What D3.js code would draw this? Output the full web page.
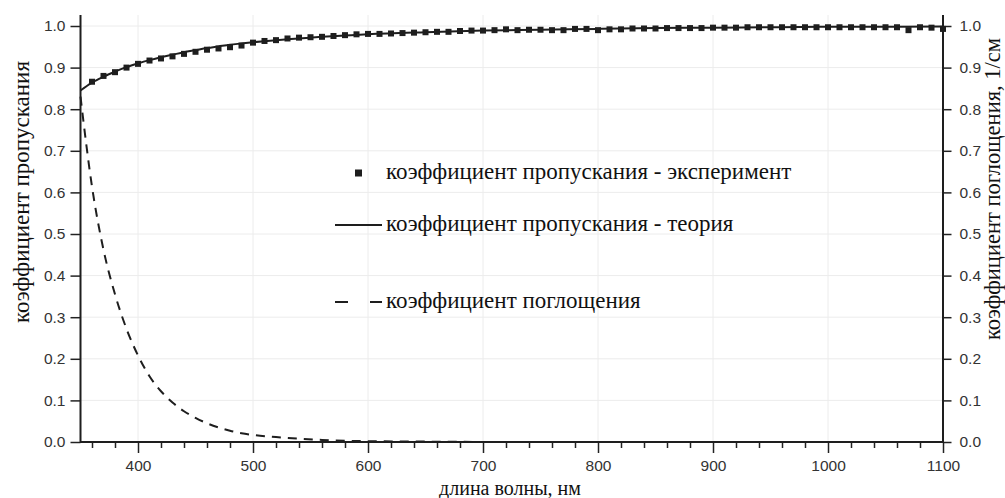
<!DOCTYPE HTML>
<html lang="ru">
<head>
    <meta charset="UTF-8">
    <title>Коэффициент пропускания и поглощения</title>
    <script src="https://d3js.org/d3.v7.min.js"></script>
    <style>
        body { margin: 0; background: #fff; }
        .tick text { font-family: "Liberation Sans", Arial, sans-serif; font-size: 15.5px; fill: #333; }
        .tick line { stroke: #222; stroke-width: 1.5px; }
        .serif { font-family: "Liberation Serif", "Times New Roman", serif; fill: #111; }
    </style>
</head>
<body>
<div id="chart"></div>
<script>
    // experiment points (every 10 nm)
    const expWave = [360, 370, 380, 390, 400, 410, 420, 430, 440, 450, 460, 470, 480, 490, 500,
        510, 520, 530, 540, 550, 560, 570, 580, 590, 600, 610, 620, 630, 640, 650, 660, 670, 680, 690, 700,
        710, 720, 730, 740, 750, 760, 770, 780, 790, 800, 810, 820, 830, 840, 850, 860, 870, 880, 890, 900,
        910, 920, 930, 940, 950, 960, 970, 980, 990, 1000, 1010, 1020, 1030, 1040, 1050, 1060, 1070, 1080, 1090, 1100];
    const expTrans = [0.866, 0.880, 0.889, 0.900, 0.909, 0.917, 0.922, 0.927, 0.933, 0.938, 0.943, 0.946, 0.949, 0.953, 0.960,
        0.964, 0.966, 0.970, 0.972, 0.973, 0.974, 0.976, 0.978, 0.980, 0.981, 0.981, 0.982, 0.983, 0.984, 0.985, 0.986, 0.986, 0.988, 0.989, 0.989,
        0.990, 0.992, 0.990, 0.991, 0.991, 0.990, 0.990, 0.993, 0.993, 0.990, 0.992, 0.992, 0.994, 0.994, 0.994, 0.995, 0.995, 0.995, 0.995, 0.996,
        0.996, 0.996, 0.997, 0.997, 0.997, 0.997, 0.997, 0.997, 0.997, 0.997, 0.997, 0.997, 0.997, 0.997, 0.997, 0.997, 0.990, 0.997, 0.996, 0.993];

    // theory curve
    const theoryWave = [350, 360, 370, 380, 390, 400, 410, 420, 430, 440, 450, 460, 470, 480, 490, 500,
        520, 540, 560, 580, 600, 650, 700, 750, 800, 850, 900, 950, 1000, 1050, 1100];
    const theoryTrans = [0.845, 0.864, 0.878, 0.890, 0.901, 0.910, 0.918, 0.925, 0.931, 0.937, 0.942, 0.947, 0.951, 0.955, 0.958, 0.961,
        0.966, 0.970, 0.974, 0.977, 0.980, 0.985, 0.989, 0.991, 0.993, 0.995, 0.996, 0.997, 0.998, 0.998, 0.999];

    // absorption coefficient, 1/cm
    const absWave = [350, 360, 370, 380, 390, 400, 410, 420, 430, 440, 450, 460, 470, 480, 490, 500,
        520, 540, 560, 580, 600, 650, 700];
    const absCoef = [0.83, 0.614, 0.462, 0.355, 0.272, 0.208, 0.158, 0.122, 0.095, 0.074, 0.058, 0.045, 0.035, 0.027, 0.021, 0.017,
        0.012, 0.008, 0.005, 0.003, 0.002, 0.001, 0.0];

    const xTicks = [400, 500, 600, 700, 800, 900, 1000, 1100];
    const xMinorTicks = [360, 380, 420, 440, 460, 480, 520, 540, 560, 580, 620, 640, 660, 680, 720, 740, 760, 780,
        820, 840, 860, 880, 920, 940, 960, 980, 1020, 1040, 1060, 1080];
    const yTicks = [0, 0.1, 0.2, 0.3, 0.4, 0.5, 0.6, 0.7, 0.8, 0.9, 1.0];
    const legendLabels = ["коэффициент пропускания - эксперимент", "коэффициент пропускания - теория", "коэффициент поглощения"];

    const width = 1005, height = 498;
    const plotLeft = 80.5, plotRight = 943, plotTop = 26, plotBottom = 442;
    const ink = "#1e1e1e";

    const svg = d3.select("#chart").append("svg")
        .attr("width", width)
        .attr("height", height);

    const x = d3.scaleLinear().domain([350, 1100]).range([plotLeft, plotRight]);
    const y = d3.scaleLinear().domain([0, 1]).range([plotBottom, plotTop]);

    // faint grid
    const grid = svg.append("g").attr("stroke", "#ececec").attr("stroke-width", 1);
    grid.selectAll("line.h").data(yTicks.slice(1)).join("line")
        .attr("class", "h")
        .attr("x1", plotLeft).attr("x2", plotRight)
        .attr("y1", d => y(d)).attr("y2", d => y(d));
    grid.selectAll("line.v").data(xTicks.slice(0, -1)).join("line")
        .attr("class", "v")
        .attr("x1", d => x(d)).attr("x2", d => x(d))
        .attr("y1", 15).attr("y2", plotBottom);

    // axes
    svg.append("g")
        .attr("transform", `translate(${plotLeft},0)`)
        .call(d3.axisLeft(y).tickValues(yTicks).tickFormat(d3.format(".1f")).tickSize(10).tickPadding(5))
        .call(g => g.select(".domain").remove());

    svg.append("g")
        .attr("transform", `translate(${plotRight},0)`)
        .call(d3.axisRight(y).tickValues(yTicks).tickFormat(d3.format(".1f")).tickSize(8.5).tickPadding(8))
        .call(g => g.select(".domain").remove());

    svg.append("g")
        .attr("transform", `translate(0,${plotBottom})`)
        .call(d3.axisBottom(x).tickValues(xMinorTicks).tickFormat("").tickSize(6))
        .call(g => g.select(".domain").remove());

    svg.append("g")
        .attr("transform", `translate(0,${plotBottom})`)
        .call(d3.axisBottom(x).tickValues(xTicks).tickFormat(d3.format("d")).tickSize(11).tickPadding(7))
        .call(g => g.select(".domain").remove());

    // axis lines
    const frame = svg.append("g").attr("stroke", ink).attr("stroke-width", 2);
    frame.append("line").attr("x1", plotLeft).attr("x2", plotLeft).attr("y1", 15).attr("y2", plotBottom + 1);
    frame.append("line").attr("x1", plotRight).attr("x2", plotRight).attr("y1", 15).attr("y2", plotBottom + 1);
    frame.append("line").attr("x1", plotLeft).attr("x2", plotRight).attr("y1", plotBottom).attr("y2", plotBottom);

    // curves
    const line = d3.line().curve(d3.curveMonotoneX);

    svg.append("path")
        .attr("d", line(absWave.map((w, i) => [x(w), y(absCoef[i])])))
        .attr("fill", "none")
        .attr("stroke", ink)
        .attr("stroke-width", 2)
        .attr("stroke-dasharray", "9,7");

    svg.append("path")
        .attr("d", line(theoryWave.map((w, i) => [x(w), y(theoryTrans[i])])))
        .attr("fill", "none")
        .attr("stroke", ink)
        .attr("stroke-width", 2);

    svg.append("g").selectAll("rect")
        .data(expWave.map((w, i) => [w, expTrans[i]]))
        .join("rect")
        .attr("x", d => x(d[0]) - 3)
        .attr("y", d => y(d[1]) - 3)
        .attr("width", 6)
        .attr("height", 6)
        .attr("fill", ink);

    // legend
    const legendRows = [173, 225, 302];
    const legend = svg.append("g");
    legend.append("rect").attr("x", 355).attr("y", legendRows[0] - 3.5).attr("width", 7).attr("height", 7).attr("fill", ink);
    legend.append("line").attr("x1", 335).attr("x2", 382).attr("y1", legendRows[1]).attr("y2", legendRows[1])
        .attr("stroke", ink).attr("stroke-width", 2);
    legend.append("line").attr("x1", 335).attr("x2", 382).attr("y1", legendRows[2]).attr("y2", legendRows[2])
        .attr("stroke", ink).attr("stroke-width", 2).attr("stroke-dasharray", "13,22");

    legend.selectAll("text")
        .data(legendLabels)
        .join("text")
        .attr("class", "serif")
        .attr("x", 386)
        .attr("y", (d, i) => legendRows[i] + 5.5)
        .style("font-size", "23px")
        .text(d => d);

    // axis titles
    svg.append("text")
        .attr("class", "serif")
        .attr("transform", "translate(29,192) rotate(-90)")
        .attr("text-anchor", "middle")
        .style("font-size", "23px")
        .text("коэффициент пропускания");

    svg.append("text")
        .attr("class", "serif")
        .attr("transform", "translate(1000,189) rotate(-90)")
        .attr("text-anchor", "middle")
        .style("font-size", "22.5px")
        .text("коэффициент поглощения, 1/см");

    svg.append("text")
        .attr("class", "serif")
        .attr("x", 510)
        .attr("y", 495)
        .attr("text-anchor", "middle")
        .style("font-size", "20px")
        .text("длина волны, нм");
</script>
</body>
</html>
